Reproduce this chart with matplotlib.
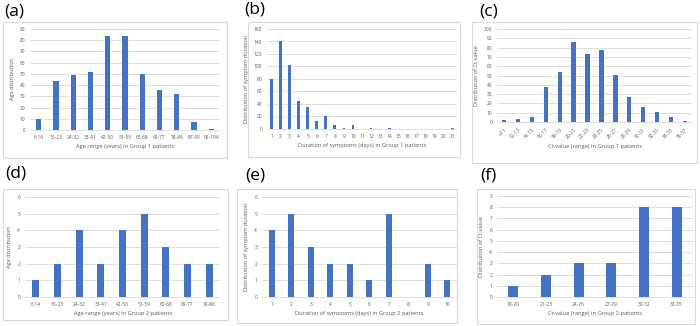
import matplotlib
matplotlib.use("Agg")
import matplotlib.pyplot as plt
from matplotlib.patches import Rectangle

# ----------------------------
# Data
# ----------------------------
age_g1_labels = ["6-14", "15-23", "24-32", "33-41", "42-50", "51-59", "60-68",
                 "69-77", "78-86", "87-95", "96-104"]
age_g1_counts = [10, 44, 49, 52, 84, 84, 50, 36, 32, 7, 1]

dur_g1_labels = [str(d) for d in range(1, 22)]
dur_g1_counts = [80, 140, 102, 44, 35, 12, 20, 6, 1, 6, 0, 1, 0, 1, 0, 0, 0, 0, 0, 0, 1]

ct_g1_labels = ["≤11", "12-13", "14-15", "16-17", "18-19", "20-21", "22-23",
                "24-25", "26-27", "28-29", "30-31", "32-33", "34-35", "36-37"]
ct_g1_counts = [2, 3, 5, 38, 54, 86, 73, 77, 51, 27, 16, 11, 5, 1]

age_g2_labels = ["6-14", "15-23", "24-32", "33-41", "42-50", "51-59", "60-68",
                 "69-77", "78-86"]
age_g2_counts = [1, 2, 4, 2, 4, 5, 3, 2, 2]

dur_g2_labels = [str(d) for d in range(1, 11)]
dur_g2_counts = [4, 5, 3, 2, 2, 1, 5, 0, 2, 1]

ct_g2_labels = ["18-20", "21-23", "24-26", "27-29", "30-32", "33-35"]
ct_g2_counts = [1, 2, 3, 3, 8, 8]

BLUE = "#4472C4"
GRID = "#D9D9D9"
TXT = "#595959"
W, H = 700, 326

plt.rcParams["font.family"] = ["Open Sans", "DejaVu Sans"]
fig = plt.figure(figsize=(7, 3.26), dpi=100)


def px_rect(x0, y0, x1, y1):
    # pixel box (top-left origin) -> figure fraction [l, b, w, h]
    return [x0 / W, 1 - y1 / H, (x1 - x0) / W, (y1 - y0) / H]


def panel(tag, tag_xy, frame, area, labels, counts, ymax, ystep,
          xlabel, ylabel, rot=0):
    fx0, fy0, fx1, fy1 = frame
    fig.patches.append(Rectangle((fx0 / W, 1 - fy1 / H), (fx1 - fx0) / W,
                                 (fy1 - fy0) / H, transform=fig.transFigure,
                                 fill=False, edgecolor=GRID, linewidth=0.8,
                                 zorder=-1))
    fig.text(tag_xy[0] / W, 1 - tag_xy[1] / H, tag, fontsize=12.5,
             ha="left", va="center", color="black")

    ax = fig.add_axes(px_rect(*area))
    ax.set_facecolor("none")
    x = range(len(counts))
    ax.bar(x, counts, width=0.31, color=BLUE, zorder=3)
    ax.set_xlim(-0.5, len(counts) - 0.5)
    ax.set_ylim(0, ymax)
    ax.set_yticks(range(0, ymax + 1, ystep))
    ax.set_xticks(list(x))
    if rot:
        ax.set_xticklabels(labels, rotation=rot, ha="right",
                           rotation_mode="anchor")
    else:
        ax.set_xticklabels(labels)
    ax.yaxis.grid(True, color=GRID, linewidth=0.6, zorder=0)
    ax.set_axisbelow(True)
    for s in ["top", "right", "left"]:
        ax.spines[s].set_visible(False)
    ax.spines["bottom"].set_color(GRID)
    ax.spines["bottom"].set_linewidth(0.6)
    ax.tick_params(axis="both", length=0, labelsize=3.5, colors=TXT, pad=3.5)
    ax.set_xlabel(xlabel, fontsize=4.1, color=TXT, labelpad=3)
    ax.set_ylabel(ylabel, fontsize=4.1, color=TXT, labelpad=3.5)
    return ax


panel("(a)", (4, 12), (3, 22, 227, 158), (30, 29, 220, 130),
      age_g1_labels, age_g1_counts, 90, 10,
      "Age range (years) in Group 1 patients", "Age distribution")

panel("(b)", (244, 10), (248, 22, 460, 157), (267, 29, 457, 129),
      dur_g1_labels, dur_g1_counts, 160, 20,
      "Duration of symptoms (days) in Group 1 patients",
      "Distribution of symptom duration")

panel("(c)", (479, 12), (472, 22, 697, 163), (497, 29, 692, 122),
      ct_g1_labels, ct_g1_counts, 100, 10,
      "Ct-value (range) in Group 1 patients", "Distribution of Ct-value",
      rot=45)

panel("(d)", (5, 173), (3, 189, 228, 320), (25, 197, 220, 297),
      age_g2_labels, age_g2_counts, 6, 1,
      "Age range (years) in Group 2 patients", "Age distribution")

panel("(e)", (245, 175), (237, 189, 457, 323), (262, 197, 457, 297),
      dur_g2_labels, dur_g2_counts, 6, 1,
      "Duration of symptoms (days) in Group 2 patients",
      "Distribution of symptom duration")

panel("(f)", (480, 176), (477, 189, 695, 324), (497, 196, 693, 297),
      ct_g2_labels, ct_g2_counts, 9, 1,
      "Ct-value (range) in Group 2 patients", "Distribution of Ct-value")

fig.savefig("out.png", dpi=100)
